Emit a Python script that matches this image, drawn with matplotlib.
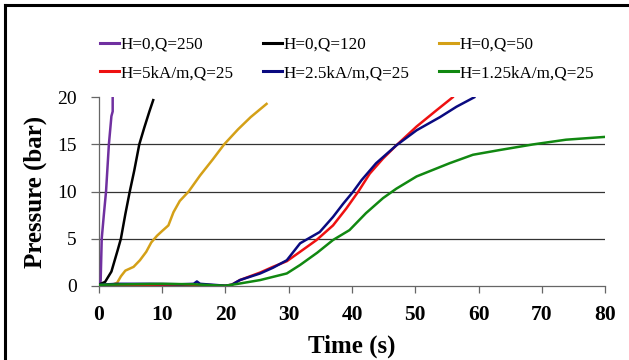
import matplotlib
matplotlib.use("Agg")
import matplotlib.pyplot as plt
from matplotlib.lines import Line2D

plt.rcParams['font.family'] = ['Liberation Serif', 'DejaVu Serif']

labels = ["H=0,Q=250", "H=0,Q=120", "H=0,Q=50",
          "H=5kA/m,Q=25", "H=2.5kA/m,Q=25", "H=1.25kA/m,Q=25"]
colors = ["#7030a0", "#000000", "#d4a017", "#ee1111", "#0a0a80", "#118811"]

t_q250 = [0.0, 0.3, 0.47, 0.8, 1.15, 1.6, 2.0, 2.2, 2.2]
p_q250 = [0.1, 0.5, 5.0, 7.5, 10.0, 15.0, 18.0, 18.5, 20.0]

t_q120 = [0.0, 0.3, 1.0, 2.0, 3.0, 3.5, 4.2, 4.9, 5.6, 6.4, 7.2, 8.0, 8.6]
p_q120 = [0.1, 0.2, 0.4, 1.5, 3.8, 5.0, 7.6, 10.0, 12.2, 15.0, 16.8, 18.5, 19.7]

t_q50 = [2.5, 2.9, 3.5, 4.2, 5.5, 6.5, 7.5, 8.3, 9.2, 10.0, 11.0, 11.8, 12.8,
         14.2, 16.0, 18.0, 19.8, 22.0, 24.0, 26.5]
p_q50 = [0.2, 0.3, 1.0, 1.6, 2.0, 2.7, 3.6, 4.6, 5.3, 5.8, 6.4, 7.8, 9.0,
         10.0, 11.7, 13.4, 15.0, 16.6, 17.9, 19.3]

t_h5 = [0.0, 5, 10, 15, 18, 20, 21, 22.3, 25.5, 27.5, 29.7, 31.8, 34.4, 37.0, 39.1,
        41.0, 42.8, 44.9, 47.0, 50.2, 53.3, 55.9]
p_h5 = [0.05, 0.05, 0.1, 0.1, 0.05, 0.0, 0.1, 0.6, 1.4, 2.0, 2.6, 3.6, 4.85, 6.4, 8.2,
        10.0, 11.9, 13.5, 14.9, 16.9, 18.6, 20.0]

t_h25 = [0.0, 3, 8, 13, 15.0, 15.5, 16.0, 18, 20, 21, 22.3, 25.5, 27.5, 29.7, 31.8,
         34.9, 37.0, 38.6, 40.2, 41.5, 43.8, 47.0, 50.2, 53.9, 56.5, 59.3]
p_h25 = [0.1, 0.2, 0.2, 0.15, 0.2, 0.45, 0.2, 0.1, 0.0, 0.1, 0.6, 1.3, 1.9, 2.7, 4.5,
         5.7, 7.3, 8.7, 10.0, 11.2, 13.0, 14.9, 16.5, 17.9, 19.0, 20.0]

t_h125 = [0.0, 5, 10, 15, 18, 20, 22, 25.5, 29.7, 31.8, 34.5, 37.0, 39.6, 42.2,
          44.9, 47.0, 50.2, 55.4, 59.1, 63.3, 68.6, 73.8, 80.0]
p_h125 = [0.1, 0.15, 0.2, 0.15, 0.05, 0.0, 0.2, 0.6, 1.3, 2.2, 3.5, 4.85, 5.9, 7.7,
          9.3, 10.3, 11.6, 13.0, 13.9, 14.4, 15.0, 15.5, 15.8]

series = [(t_q250, p_q250), (t_q120, p_q120), (t_q50, p_q50),
          (t_h5, p_h5), (t_h25, p_h25), (t_h125, p_h125)]

xticks = [0, 10, 20, 30, 40, 50, 60, 70, 80]
yticks = [0, 5, 10, 15, 20]

fig = plt.figure(figsize=(6.29, 3.6), dpi=100)
ax = fig.add_axes([0.157, 0.2064, 0.8053, 0.5233])

for y in [5, 10, 15]:
    ax.axhline(y, color="#333333", lw=0.9, zorder=1)

for (t, p), c in zip(series, colors):
    ax.plot(t, p, color=c, lw=1.8, zorder=3)

ax.set_xlim(0, 80)
ax.set_ylim(0, 20)
ax.set_xticks(xticks)
ax.set_yticks(yticks)
ax.set_xticklabels([str(v) for v in xticks], fontsize=15.5, fontweight="bold")
ax.set_yticklabels([str(v) for v in yticks], fontsize=14)
ax.tick_params(axis="both", direction="out", color="#666666", width=0.9)
ax.tick_params(axis="x", length=5, pad=9)
ax.tick_params(axis="y", length=6, pad=10)
for s in ["top", "right"]:
    ax.spines[s].set_visible(False)
for s in ["left", "bottom"]:
    ax.spines[s].set_color("#666666")
    ax.spines[s].set_linewidth(0.9)

ax.set_xlabel("Time (s)", fontsize=18, fontweight="bold", labelpad=7)
ax.set_ylabel("Pressure (bar)", fontsize=18, fontweight="bold", labelpad=7)

# legend filled row-wise (matplotlib fills column-wise)
order = [0, 3, 1, 4, 2, 5]
handles = [Line2D([0], [0], color=colors[i], lw=2.2) for i in order]
leg_labels = [labels[i] for i in order]
fig.legend(handles, leg_labels, ncol=3, loc="center", bbox_to_anchor=(0.552, 0.836),
           frameon=False, fontsize=12.3, handlelength=1.1, handletextpad=0.13,
           columnspacing=1.7, labelspacing=0.75)

# outer border lines
fig.add_artist(Line2D([0.008, 0.008], [0.0, 0.985], color="black", lw=2.2, transform=fig.transFigure))
fig.add_artist(Line2D([0.008, 1.0], [0.985, 0.985], color="black", lw=2.2, transform=fig.transFigure))

fig.savefig("out.png", dpi=100)
